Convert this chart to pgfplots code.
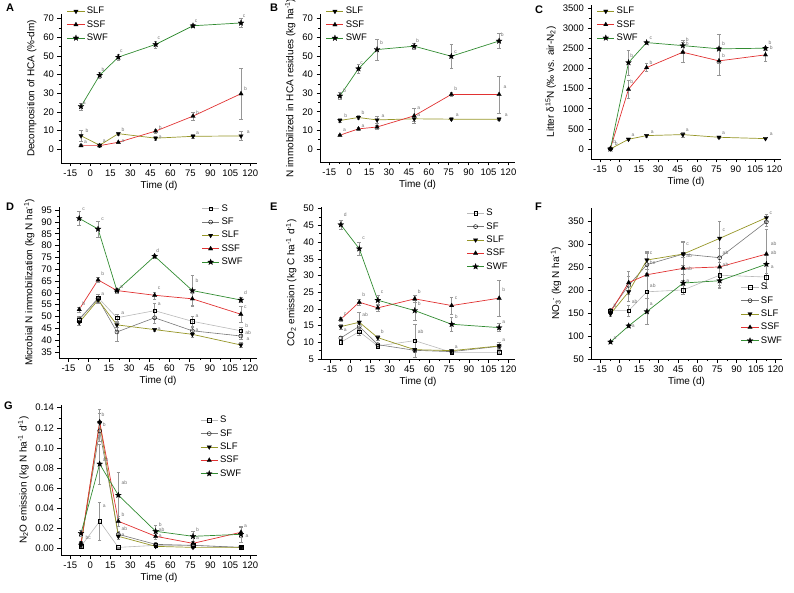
\documentclass[border=0pt]{standalone}
\usepackage{fontspec}
\setmainfont{Liberation Sans}
\usepackage{pgfplots}
\pgfplotsset{compat=1.18}
\usetikzlibrary{plotmarks}

\definecolor{cSLF}{RGB}{150,150,40}
\definecolor{cSSF}{RGB}{225,50,50}
\definecolor{cSWF}{RGB}{50,140,50}
\definecolor{cS}{RGB}{185,185,185}
\definecolor{cSF}{RGB}{120,120,120}
\definecolor{cErr}{RGB}{150,150,150}

% filled five-pointed star
\pgfdeclareplotmark{fstar}{%
  \pgfpathmoveto{\pgfpointpolar{90}{\pgfplotmarksize}}%
  \pgfpathlineto{\pgfpointpolar{126}{0.42\pgfplotmarksize}}%
  \pgfpathlineto{\pgfpointpolar{162}{\pgfplotmarksize}}%
  \pgfpathlineto{\pgfpointpolar{198}{0.42\pgfplotmarksize}}%
  \pgfpathlineto{\pgfpointpolar{234}{\pgfplotmarksize}}%
  \pgfpathlineto{\pgfpointpolar{270}{0.42\pgfplotmarksize}}%
  \pgfpathlineto{\pgfpointpolar{306}{\pgfplotmarksize}}%
  \pgfpathlineto{\pgfpointpolar{342}{0.42\pgfplotmarksize}}%
  \pgfpathlineto{\pgfpointpolar{18}{\pgfplotmarksize}}%
  \pgfpathlineto{\pgfpointpolar{54}{0.42\pgfplotmarksize}}%
  \pgfpathclose
  \pgfusepathqfillstroke}

\pgfplotsset{
  panel/.style={
    scale only axis, anchor=south west,
    axis lines*=left, axis line style={-, line width=0.5pt},
    xmin=-22, xmax=125, xtick={-15,0,...,120},
    minor x tick num=1, minor y tick num=1,
    tick align=outside, major tick length=3.5pt, minor tick length=2pt,
    tick style={black, line width=0.5pt},
    tick label style={font=\fontsize{9.5}{10}\selectfont},
    label style={font=\fontsize{10}{12}\selectfont},
    xlabel={Time (d)},
    xlabel style={yshift=2pt},
    /pgf/number format/assume math mode=true,
    /pgf/number format/1000 sep={},
    legend style={draw=none, fill=none, font=\fontsize{9.5}{10}\selectfont,
      row sep=1.2pt, inner sep=0pt},
    legend cell align=left,
    clip=false,
    error bars/y dir=both, error bars/y explicit,
    error bars/error bar style={cErr, line width=0.4pt},
    error bars/error mark options={rotate=90, cErr, mark size=1.8pt, line width=0.4pt},
  },
  sS/.style={cS, line width=0.6pt, mark=square, mark size=1.8pt,
    mark options={black, fill=white, line width=0.4pt}},
  sSF/.style={cSF, line width=0.6pt, mark=o, mark size=2pt,
    mark options={black, fill=white, line width=0.4pt}},
  sSLF/.style={cSLF, line width=0.7pt, mark=triangle*, mark size=2.6pt,
    mark options={black, rotate=180, line width=0.2pt}},
  sSSF/.style={cSSF, line width=0.7pt, mark=triangle*, mark size=2.6pt,
    mark options={black, line width=0.2pt}},
  sSWF/.style={cSWF, line width=0.7pt, mark=fstar, mark size=3.1pt,
    mark options={black, line width=0.2pt}},
}
\tikzset{
  lab/.style={font=\fontsize{5}{5}\selectfont, text=black!55, inner sep=0.3pt, anchor=south west},
  plab/.style={font=\bfseries\fontsize{11}{12}\selectfont, anchor=north west, inner sep=0pt},
}

\begin{document}
\begin{tikzpicture}
\useasboundingbox (0pt,0pt) rectangle (794pt,-593pt);

% ---------------- A ----------------
\node[plab] at (6pt,-4pt) {A};
\begin{axis}[panel, at={(61pt,-163pt)}, width=196pt, height=149pt,
  ymin=-7.3, ymax=72.5, ytick={0,10,...,70},
  ylabel={Decomposition of HCA (\%-dm)},
  legend style={at={(0.03,1.06)}, anchor=north west}]
\addplot[sSLF] coordinates {(-7,7.3) +- (0,2.8) (7,2.2) +- (0,0.8) (21,8.4) +- (0,1) (49,6) +- (0,1) (77,7) +- (0,1.2) (113,7.2) +- (0,2.4)};
\addplot[sSSF] coordinates {(-7,2) +- (0,0.5) (7,2) +- (0,0.5) (21,3.8) +- (0,0.6) (49,9.8) +- (0,1) (77,17.8) +- (0,2) (113,29.8) +- (0,13.6)};
\addplot[sSWF] coordinates {(-7,23) +- (0,1.8) (7,39.7) +- (0,1.5) (21,49.4) +- (0,1.5) (49,56.2) +- (0,1.8) (77,66.2) +- (0,1) (113,67.7) +- (0,2.5)};
\legend{SLF,SSF,SWF}
\node[lab] at (axis cs:-6,24) {a};
\node[lab] at (axis cs:8,41.5) {b};
\node[lab] at (axis cs:22,51.5) {c};
\node[lab] at (axis cs:50,58.5) {c};
\node[lab] at (axis cs:78,67.5) {c};
\node[lab] at (axis cs:114,70.5) {c};
\node[lab] at (axis cs:-4,9) {b};
\node[lab] at (axis cs:-5,3) {a};
\node[lab] at (axis cs:9,3.5) {a};
\node[lab] at (axis cs:23,9.5) {b};
\node[lab] at (axis cs:23,3.5) {a};
\node[lab] at (axis cs:51,10.5) {b};
\node[lab] at (axis cs:51,5.5) {a};
\node[lab] at (axis cs:79,18.5) {b};
\node[lab] at (axis cs:79,7.5) {a};
\node[lab] at (axis cs:115,31) {b};
\node[lab] at (axis cs:117,8) {a};
\end{axis}

% ---------------- B ----------------
\node[plab] at (270pt,-4pt) {B};
\begin{axis}[panel, at={(320pt,-162pt)}, width=195pt, height=148pt,
  ymin=-7, ymax=72.5, ytick={0,10,...,70},
  ylabel={N immobilized in HCA residues (kg ha\textsuperscript{-1})},
  legend style={at={(0.03,1.06)}, anchor=north west}]
\addplot[sSLF] coordinates {(-7,15.3) +- (0,1) (7,16.9) +- (0,1) (21,15.6) +- (0,2) (49,16.2) +- (0,1.5) (77,16) +- (0,0.8) (113,16) +- (0,0.8)};
\addplot[sSSF] coordinates {(-7,7.4) +- (0,0.8) (7,10.8) +- (0,0.8) (21,11.8) +- (0,1.2) (49,17.8) +- (0,4) (77,29.3) +- (0,1) (113,29.3) +- (0,10)};
\addplot[sSWF] coordinates {(-7,28.5) +- (0,2) (7,43.1) +- (0,2.5) (21,53.4) +- (0,5.5) (49,55.2) +- (0,1.5) (77,49.8) +- (0,6.3) (113,58) +- (0,4)};
\legend{SLF,SSF,SWF}
\node[lab] at (axis cs:-5,30) {b};
\node[lab] at (axis cs:8,45) {c};
\node[lab] at (axis cs:23,56) {b};
\node[lab] at (axis cs:50,57) {b};
\node[lab] at (axis cs:79,51) {c};
\node[lab] at (axis cs:114,60) {b};
\node[lab] at (axis cs:-4,16.5) {b};
\node[lab] at (axis cs:-5,9) {a};
\node[lab] at (axis cs:9,18) {b};
\node[lab] at (axis cs:9,11.5) {a};
\node[lab] at (axis cs:24,16.5) {a};
\node[lab] at (axis cs:51,21) {a};
\node[lab] at (axis cs:51,17) {a};
\node[lab] at (axis cs:79,31) {b};
\node[lab] at (axis cs:80,17) {a};
\node[lab] at (axis cs:116,32) {a};
\node[lab] at (axis cs:117,17) {a};
\end{axis}

% ---------------- C ----------------
\node[plab] at (535pt,-6pt) {C};
\begin{axis}[panel, at={(591pt,-159pt)}, width=190pt, height=154pt,
  ymin=-250, ymax=3580, ytick={0,500,...,3500},
  ylabel={Litter δ\textsuperscript{15}N (‰ vs. air-N\textsubscript{2})},
  legend style={at={(0.03,1.0)}, anchor=north west}]
\addplot[sSLF] coordinates {(-7,0) +- (0,10) (7,240) +- (0,30) (21,332) +- (0,30) (49,357) +- (0,60) (77,290) +- (0,30) (113,257) +- (0,20)};
\addplot[sSSF] coordinates {(-7,10) +- (0,10) (7,1484) +- (0,220) (21,2023) +- (0,100) (49,2405) +- (0,250) (77,2190) +- (0,350) (113,2340) +- (0,160)};
\addplot[sSWF] coordinates {(-7,0) +- (0,10) (7,2148) +- (0,310) (21,2645) +- (0,30) (49,2570) +- (0,130) (77,2490) +- (0,360) (113,2505) +- (0,40)};
\legend{SLF,SSF,SWF}
\node[lab] at (axis cs:-5,120) {b};
\node[lab] at (axis cs:-4,60) {b};
\node[lab] at (axis cs:8,2250) {b};
\node[lab] at (axis cs:8,1620) {b};
\node[lab] at (axis cs:23,2700) {c};
\node[lab] at (axis cs:23,2080) {b};
\node[lab] at (axis cs:51,2650) {b};
\node[lab] at (axis cs:51,2550) {b};
\node[lab] at (axis cs:79,2570) {b};
\node[lab] at (axis cs:79,2250) {b};
\node[lab] at (axis cs:115,2580) {b};
\node[lab] at (axis cs:116,2450) {b};
\node[lab] at (axis cs:9,300) {a};
\node[lab] at (axis cs:24,380) {a};
\node[lab] at (axis cs:51,420) {a};
\node[lab] at (axis cs:79,340) {a};
\node[lab] at (axis cs:116,320) {a};
\end{axis}

% ---------------- D ----------------
\node[plab] at (6pt,-203pt) {D};
\begin{axis}[panel, at={(59pt,-358pt)}, width=198pt, height=151pt,
  ymin=32.5, ymax=96.3, ytick={35,40,...,95},
  ylabel={Microbial N immobilization (kg N ha\textsuperscript{-1})},
  legend style={at={(0.72,1.03)}, anchor=north west}]
\addplot[sS] coordinates {(-7,48.5) +- (0,1) (7,58) +- (0,1.5) (21,49.5) +- (0,1.5) (49,52.5) +- (0,3) (77,48) +- (0,2) (113,44) +- (0,1.5)};
\addplot[sSF] coordinates {(-7,49) +- (0,1) (7,57.5) +- (0,2) (21,43.5) +- (0,4) (49,49.5) +- (0,2.5) (77,44) +- (0,1.5) (113,41.8) +- (0,1.5)};
\addplot[sSLF] coordinates {(-7,47.5) +- (0,1) (7,57) +- (0,1) (21,46.5) +- (0,1) (49,44.5) +- (0,0.7) (77,42.5) +- (0,1) (113,38) +- (0,1)};
\addplot[sSSF] coordinates {(-7,53) +- (0,1) (7,65.5) +- (0,1) (21,61) +- (0,1) (49,59) +- (0,1.5) (77,57.5) +- (0,2.5) (113,51) +- (0,3.5)};
\addplot[sSWF] coordinates {(-7,91.5) +- (0,3) (7,87) +- (0,3.5) (21,61) +- (0,1) (49,75.5) +- (0,1) (77,61) +- (0,6.5) (113,57) +- (0,1)};
\legend{S,SF,SLF,SSF,SWF}
\node[lab] at (axis cs:-5,94.5) {c};
\node[lab] at (axis cs:9,90.5) {c};
\node[lab] at (axis cs:50,77) {d};
\node[lab] at (axis cs:79,64) {b};
\node[lab] at (axis cs:115,59) {d};
\node[lab] at (axis cs:23,61.5) {a};
\node[lab] at (axis cs:-5,54.5) {b};
\node[lab] at (axis cs:9,67) {b};
\node[lab] at (axis cs:51,61) {c};
\node[lab] at (axis cs:115,53) {c};
\node[lab] at (axis cs:9,58.5) {a};
\node[lab] at (axis cs:24,50.5) {a};
\node[lab] at (axis cs:51,54.5) {a};
\node[lab] at (axis cs:51,44) {a};
\node[lab] at (axis cs:79,49.5) {a};
\node[lab] at (axis cs:79,43.5) {a};
\node[lab] at (axis cs:116,45) {b};
\node[lab] at (axis cs:116,42) {ab};
\node[lab] at (axis cs:117,39.5) {a};
\end{axis}

% ---------------- E ----------------
\node[plab] at (270pt,-203pt) {E};
\begin{axis}[panel, at={(321pt,-359pt)}, width=194pt, height=152pt,
  ymin=5, ymax=50.5, ytick={5,10,...,50},
  ylabel={CO\textsubscript{2} emission (kg C ha\textsuperscript{-1} d\textsuperscript{-1})},
  legend style={at={(0.75,1.0)}, anchor=north west}]
\addplot[sS] coordinates {(-7,10) +- (0,0.5) (7,13.2) +- (0,1) (21,8.9) +- (0,0.4) (49,10.5) +- (0,5) (77,7) +- (0,0.3) (113,7) +- (0,0.3)};
\addplot[sSF] coordinates {(-7,11.3) +- (0,0.5) (7,14.8) +- (0,1) (21,9.3) +- (0,0.5) (49,7.6) +- (0,0.5) (77,7.2) +- (0,0.4) (113,8.8) +- (0,0.6)};
\addplot[sSLF] coordinates {(-7,14.7) +- (0,0.8) (7,16) +- (0,3) (21,11.4) +- (0,0.7) (49,7.8) +- (0,0.5) (77,7.5) +- (0,0.4) (113,8.9) +- (0,1)};
\addplot[sSSF] coordinates {(-7,16.9) +- (0,0.7) (7,22) +- (0,1) (21,20.3) +- (0,1) (49,23) +- (0,1) (77,21) +- (0,2.5) (113,23.2) +- (0,5.5)};
\addplot[sSWF] coordinates {(-7,45.2) +- (0,1.2) (7,38) +- (0,2) (21,22.6) +- (0,1.5) (49,19.5) +- (0,3) (77,15.4) +- (0,2) (113,14.4) +- (0,1.2)};
\legend{S,SF,SLF,SSF,SWF}
\node[lab] at (axis cs:-5,47.5) {d};
\node[lab] at (axis cs:9,40.5) {c};
\node[lab] at (axis cs:23,24.5) {c};
\node[lab] at (axis cs:51,21) {b};
\node[lab] at (axis cs:79,17) {b};
\node[lab] at (axis cs:115,15.5) {a};
\node[lab] at (axis cs:-5,18) {c};
\node[lab] at (axis cs:9,23.5) {b};
\node[lab] at (axis cs:51,24.5) {b};
\node[lab] at (axis cs:79,22.5) {c};
\node[lab] at (axis cs:115,25) {b};
\node[lab] at (axis cs:9,17.5) {ab};
\node[lab] at (axis cs:23,12.5) {b};
\node[lab] at (axis cs:-5,13) {a};
\node[lab] at (axis cs:51,12.5) {ab};
\node[lab] at (axis cs:79,8) {a};
\node[lab] at (axis cs:115,10) {a};
\end{axis}

% ---------------- F ----------------
\node[plab] at (535pt,-203pt) {F};
\begin{axis}[panel, at={(591pt,-359pt)}, width=191pt, height=151pt,
  ymin=50, ymax=378, ytick={50,100,...,350},
  ylabel={NO\textsubscript{3}\textsuperscript{-} (kg N ha\textsuperscript{-1})},
  legend style={at={(0.785,0.08)}, anchor=south west}]
\addplot[sS] coordinates {(-7,155) +- (0,5) (7,155) +- (0,12) (21,196) +- (0,40) (49,200) +- (0,10) (77,232) +- (0,28) (113,228) +- (0,25)};
\addplot[sSF] coordinates {(-7,155) +- (0,5) (7,210) +- (0,20) (21,255) +- (0,25) (49,278) +- (0,25) (77,270) +- (0,20) (113,348) +- (0,10)};
\addplot[sSLF] coordinates {(-7,148) +- (0,5) (7,196) +- (0,20) (21,265) +- (0,20) (49,278) +- (0,28) (77,312) +- (0,38) (113,357) +- (0,8)};
\addplot[sSSF] coordinates {(-7,152) +- (0,5) (7,216) +- (0,25) (21,233) +- (0,50) (49,247) +- (0,25) (77,250) +- (0,40) (113,278) +- (0,55)};
\addplot[sSWF] coordinates {(-7,87) +- (0,3) (7,122) +- (0,3) (21,153) +- (0,28) (49,215) +- (0,20) (77,220) +- (0,15) (113,256) +- (0,20)};
\legend{S,SF,SLF,SSF,SWF}
\node[lab] at (axis cs:-5,92) {a};
\node[lab] at (axis cs:9,118) {a};
\node[lab] at (axis cs:23,165) {a};
\node[lab] at (axis cs:51,215) {a};
\node[lab] at (axis cs:116,245) {a};
\node[lab] at (axis cs:-5,160) {b};
\node[lab] at (axis cs:9,170) {ab};
\node[lab] at (axis cs:23,205) {ab};
\node[lab] at (axis cs:23,275) {c};
\node[lab] at (axis cs:23,255) {bc};
\node[lab] at (axis cs:51,295) {c};
\node[lab] at (axis cs:51,270) {ab};
\node[lab] at (axis cs:51,240) {ab};
\node[lab] at (axis cs:79,325) {c};
\node[lab] at (axis cs:79,275) {ab};
\node[lab] at (axis cs:79,250) {ab};
\node[lab] at (axis cs:115,362) {c};
\node[lab] at (axis cs:116,295) {ab};
\node[lab] at (axis cs:116,275) {ab};
\end{axis}

% ---------------- G ----------------
\node[plab] at (4pt,-402pt) {G};
\begin{axis}[panel, at={(61pt,-555pt)}, width=196pt, height=150pt,
  ymin=-0.0066, ymax=0.1427, ytick={0,0.02,...,0.14},
  yticklabel style={/pgf/number format/fixed, /pgf/number format/fixed zerofill,
    /pgf/number format/precision=2},
  ylabel={N\textsubscript{2}O emission (kg N ha\textsuperscript{-1} d\textsuperscript{-1})},
  legend style={at={(0.71,0.94)}, anchor=north west}]
\addplot[sS] coordinates {(-7,0.002) +- (0,0.001) (7,0.027) +- (0,0.019) (21,0.001) +- (0,0.0005) (49,0.003) +- (0,0.001) (77,0.003) +- (0,0.001) (113,0.001) +- (0,0.0005)};
\addplot[sSF] coordinates {(-7,0.005) +- (0,0.002) (7,0.117) +- (0,0.01) (21,0.014) +- (0,0.003) (49,0.004) +- (0,0.001) (77,0.003) +- (0,0.001) (113,0.001) +- (0,0.0005)};
\addplot[sSLF] coordinates {(-7,0.003) +- (0,0.001) (7,0.125) +- (0,0.01) (21,0.012) +- (0,0.003) (49,0.002) +- (0,0.001) (77,0.001) +- (0,0.0005) (113,0.001) +- (0,0.0005)};
\addplot[sSSF] coordinates {(-7,0.005) +- (0,0.002) (7,0.126) +- (0,0.013) (21,0.027) +- (0,0.005) (49,0.012) +- (0,0.003) (77,0.005) +- (0,0.002) (113,0.016) +- (0,0.005)};
\addplot[sSWF] coordinates {(-7,0.015) +- (0,0.003) (7,0.084) +- (0,0.02) (21,0.053) +- (0,0.023) (49,0.017) +- (0,0.006) (77,0.012) +- (0,0.005) (113,0.014) +- (0,0.008)};
\legend{S,SF,SLF,SSF,SWF}
\node[lab] at (axis cs:8,0.131) {b};
\node[lab] at (axis cs:9,0.121) {b};
\node[lab] at (axis cs:9,0.086) {ab};
\node[lab] at (axis cs:9,0.040) {a};
\node[lab] at (axis cs:23,0.063) {ab};
\node[lab] at (axis cs:23,0.031) {b};
\node[lab] at (axis cs:23,0.017) {ab};
\node[lab] at (axis cs:23,0.011) {a};
\node[lab] at (axis cs:-4,0.008) {bc};
\node[lab] at (axis cs:51,0.021) {b};
\node[lab] at (axis cs:51,0.016) {ab};
\node[lab] at (axis cs:51,0.010) {a};
\node[lab] at (axis cs:79,0.016) {b};
\node[lab] at (axis cs:79,0.008) {a};
\node[lab] at (axis cs:115,0.020) {a};
\node[lab] at (axis cs:116,0.010) {a};
\end{axis}
\end{tikzpicture}
\end{document}
